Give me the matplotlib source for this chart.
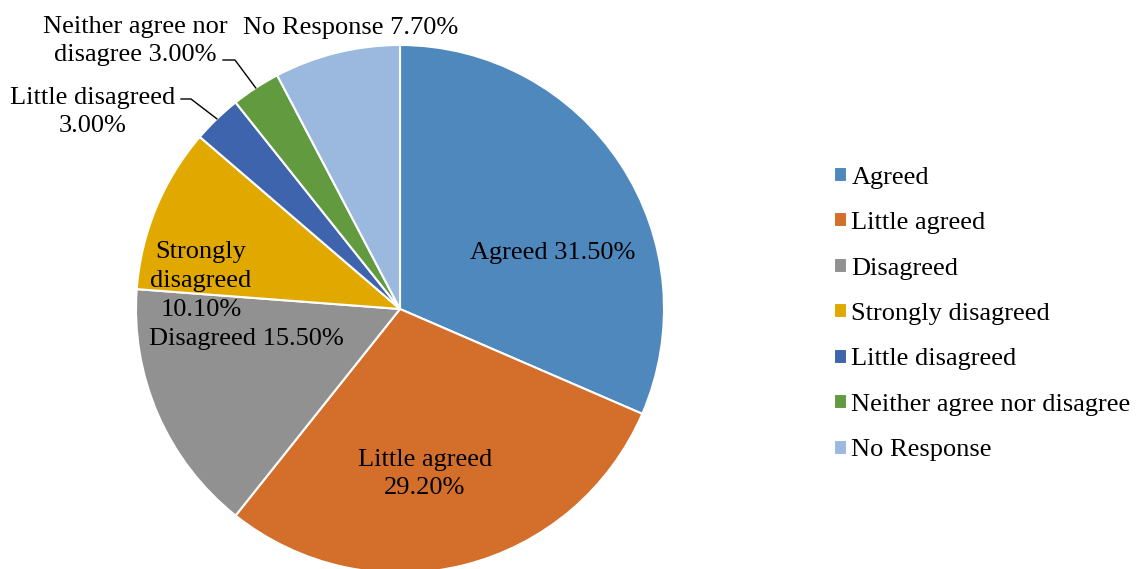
import numpy as np
import matplotlib
matplotlib.use('Agg')
import matplotlib.pyplot as plt

# Data
categories = ['Agreed', 'Little agreed', 'Disagreed', 'Strongly disagreed',
              'Little disagreed', 'Neither agree nor disagree', 'No Response']
shares = [31.5, 29.2, 15.5, 10.1, 3.0, 3.0, 7.7]
slice_labels = ['Agreed 31.50%', 'Little agreed\n29.20%', 'Disagreed 15.50%',
                'Strongly\ndisagreed\n10.10%', 'Little disagreed\n3.00%',
                'Neither agree nor\ndisagree 3.00%', 'No Response 7.70%']

colors = ['#4F88BD', '#D46E2B', '#919191', '#E1A900', '#3E64AD', '#629A3F', '#9BB9DE']

plt.rcParams['font.family'] = ['Liberation Serif', 'DejaVu Serif']
FS = 19

W, H = 1139, 569
cx, cy, R = 400, 309, 264   # pie centre / radius in pixels

fig = plt.figure(figsize=(W / 100, H / 100), dpi=100)
ax = fig.add_axes([0, 0, 1, 1])

wedges, _ = ax.pie(shares, colors=colors, startangle=90, counterclock=False,
                   wedgeprops=dict(edgecolor='white', linewidth=1.5))
ax.set_xlim(-cx / R, (W - cx) / R)
ax.set_ylim(-(H - cy) / R, cy / R)
ax.set_aspect('auto')
ax.axis('off')

def px(x, y):
    # pixel position -> data coords
    return (x - cx) / R, (cy - y) / R

# label positions (pixels)
label_pos = [(553, 253), (425, 474), (246, 339), (201, 281),
             (93, 112), (135, 41), (351, 28)]
for lab, (x, y) in zip(slice_labels, label_pos):
    dx, dy = px(x, y)
    ax.text(dx, dy, lab, ha='center', va='center', fontsize=FS,
            linespacing=1.4, color='black')

# leader lines for the two small slices
ends = np.cumsum(shares) / sum(shares)
starts = ends - np.array(shares) / sum(shares)
elbows = {4: [(181, 99), (191, 99)], 5: [(223, 60), (235, 60)]}
for i, pts in elbows.items():
    ang = np.deg2rad(90 - 360 * (starts[i] + ends[i]) / 2)
    tip = (np.cos(ang), np.sin(ang))
    xs = [px(*p)[0] for p in pts] + [tip[0]]
    ys = [px(*p)[1] for p in pts] + [tip[1]]
    ax.plot(xs, ys, color='black', lw=1)

leg = fig.legend(wedges, categories, loc='center left',
                 bbox_to_anchor=(834 / W, (H - 314) / H), frameon=False,
                 fontsize=FS, handlelength=0.5, handleheight=0.5,
                 handletextpad=0.16, labelspacing=0.89, borderpad=0,
                 borderaxespad=0)

fig.savefig('out.png', dpi=100)
